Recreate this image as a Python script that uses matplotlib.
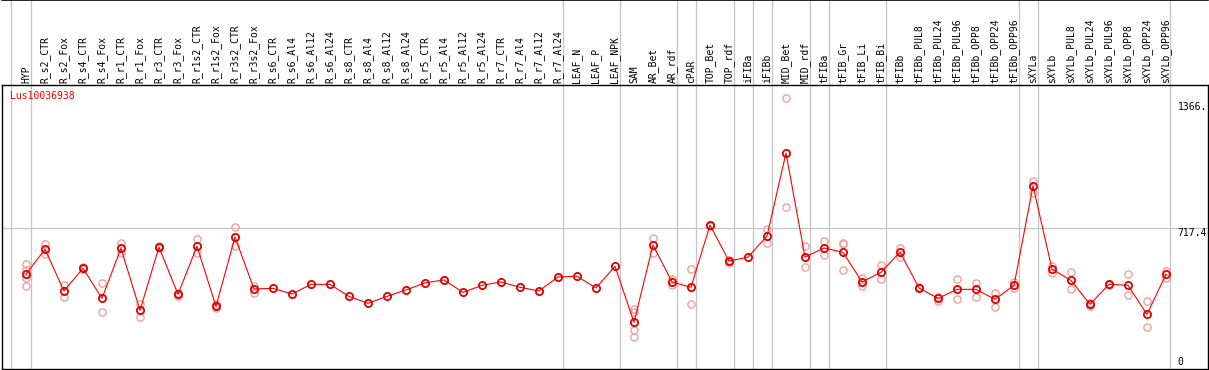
import matplotlib
matplotlib.use("Agg")
import matplotlib.pyplot as plt
from matplotlib.transforms import blended_transform_factory

gene = "Lus10036938"

samples = ["HYP", "R_s2_CTR", "R_s2_Fox", "R_s4_CTR", "R_s4_Fox", "R_r1_CTR", "R_r1_Fox",
           "R_r3_CTR", "R_r3_Fox", "R_r1s2_CTR", "R_r1s2_Fox", "R_r3s2_CTR", "R_r3s2_Fox",
           "R_s6_CTR", "R_s6_Al4", "R_s6_Al12", "R_s6_Al24", "R_s8_CTR", "R_s8_Al4",
           "R_s8_Al12", "R_s8_Al24", "R_r5_CTR", "R_r5_Al4", "R_r5_Al12", "R_r5_Al24",
           "R_r7_CTR", "R_r7_Al4", "R_r7_Al12", "R_r7_Al24", "LEAF_N", "LEAF_P", "LEAF_NPK",
           "SAM", "AR_Bet", "AR_rdf", "cPAR", "TOP_Bet", "TOP_rdf", "iFIBa", "iFIBb",
           "MID_Bet", "MID_rdf", "tFIBa", "tFIB_Gr", "tFIB_Li", "tFIB_Bi", "tFIBb",
           "tFIBb_PUL8", "tFIBb_PUL24", "tFIBb_PUL96", "tFIBb_OPP8", "tFIBb_OPP24",
           "tFIBb_OPP96", "sXYLa", "sXYLb", "sXYLb_PUL8", "sXYLb_PUL24", "sXYLb_PUL96",
           "sXYLb_OPP8", "sXYLb_OPP24", "sXYLb_OPP96"]

means = [489, 613, 405, 518, 368, 618, 308, 624, 388, 628, 328, 674, 415,
         418, 390, 438, 438, 378, 343, 378, 410, 445, 460, 398, 433,
         450, 423, 405, 475, 478, 420, 528,
         248, 634, 450, 423, 734, 554, 574, 679, 1093, 574,
         619, 598, 450, 498, 599,
         420, 368, 413, 413, 363, 433,
         929, 514, 458, 338, 438, 433, 288, 488]

replicates = [[539, 509, 468, 428], [638, 589], [436, 376], [526, 513], [443, 300],
              [646, 593], [340, 273], [629, 618], [396, 380], [664, 593], [338, 321],
              [723, 629], [428, 395],
              [], [], [], [], [], [], [], [], [], [], [], [],
              [], [], [], [], [], [], [],
              [313, 298, 210, 174], [669, 596], [463, 433], [513, 338], [734, 729],
              [546, 559], [], [714, 643], [1366, 822], [629, 523],
              [653, 583], [646, 639, 508], [470, 430], [534, 465], [621, 576],
              [420, 425], [376, 356], [463, 363], [446, 376], [393, 326], [450, 420],
              [955, 895], [531, 496], [500, 413], [346, 330], [438, 435], [490, 385],
              [355, 227], [505, 468]]

separators = [-0.79, 0.25, 28.25, 31.25, 34.25, 35.25, 37.25, 38.25, 39.25,
              41.25, 42.25, 45.25, 52.25, 53.25, 60.2]
grid_value = 717.4
scale_labels = ["1366.", "717.4", "0"]
scale_values = [1366.3, 717.4, 0]

W, H = 1209, 370
fig = plt.figure(figsize=(W / 100, H / 100), dpi=100)
top_px, bottom_px, left_px, right_px = 85, 369, 1.5, 1208
ax = fig.add_axes([left_px / W, (H - bottom_px) / H,
                   (right_px - left_px) / W, (bottom_px - top_px) / H])
ax.set_xlim(-1.289, 62.21)
ax.set_ylim(15.5, 1432.6)
ax.set_xticks([])
ax.set_yticks([])
for s in ax.spines.values():
    s.set_color("black")
    s.set_linewidth(1.0)

gray = "#c4c4c4"
frame_top = (bottom_px - 0.5) / (bottom_px - top_px)
for xs in separators:
    ax.axvline(xs, ymin=0, ymax=frame_top, color=gray, lw=0.9, clip_on=False, zorder=1)
ax.axhline(grid_value, color=gray, lw=0.9, zorder=1)
ax.plot([0, 1], [frame_top, frame_top], transform=ax.transAxes, color="black",
        lw=1.2, clip_on=False)

xs_idx = list(range(len(samples)))
for i, reps in enumerate(replicates):
    if reps:
        ax.plot([i] * len(reps), reps, "o", ms=5.2, mfc="none", mec="#f0a0a0",
                mew=1.0, zorder=2, clip_on=False)
ax.plot(xs_idx, means, "-", color="red", lw=0.8, zorder=3)
ax.plot(xs_idx, means, "o", ms=5.2, mfc="none", mec="#e00000", mew=1.3, zorder=4)

mono = "DejaVu Sans Mono"
trans = blended_transform_factory(ax.transData, ax.transAxes)
for i, name in enumerate(samples):
    ax.text(i, 1 + 2 / (bottom_px - top_px), name, rotation=90, ha="center",
            va="bottom", fontsize=7, family=mono, transform=trans)

ax.text((10 - left_px) / (right_px - left_px), (bottom_px - 91) / (bottom_px - top_px),
        gene, color="red", fontsize=7, family=mono, ha="left", va="top",
        transform=ax.transAxes)

offsets = [-9, -4.5, 10]
for lab, val, off in zip(scale_labels, scale_values, offsets):
    ax.annotate(lab, xy=(60.6, val), xytext=(0, off), textcoords="offset pixels",
                ha="left", va="center", fontsize=7, family=mono, annotation_clip=False)

fig.savefig("out.png", dpi=100)
